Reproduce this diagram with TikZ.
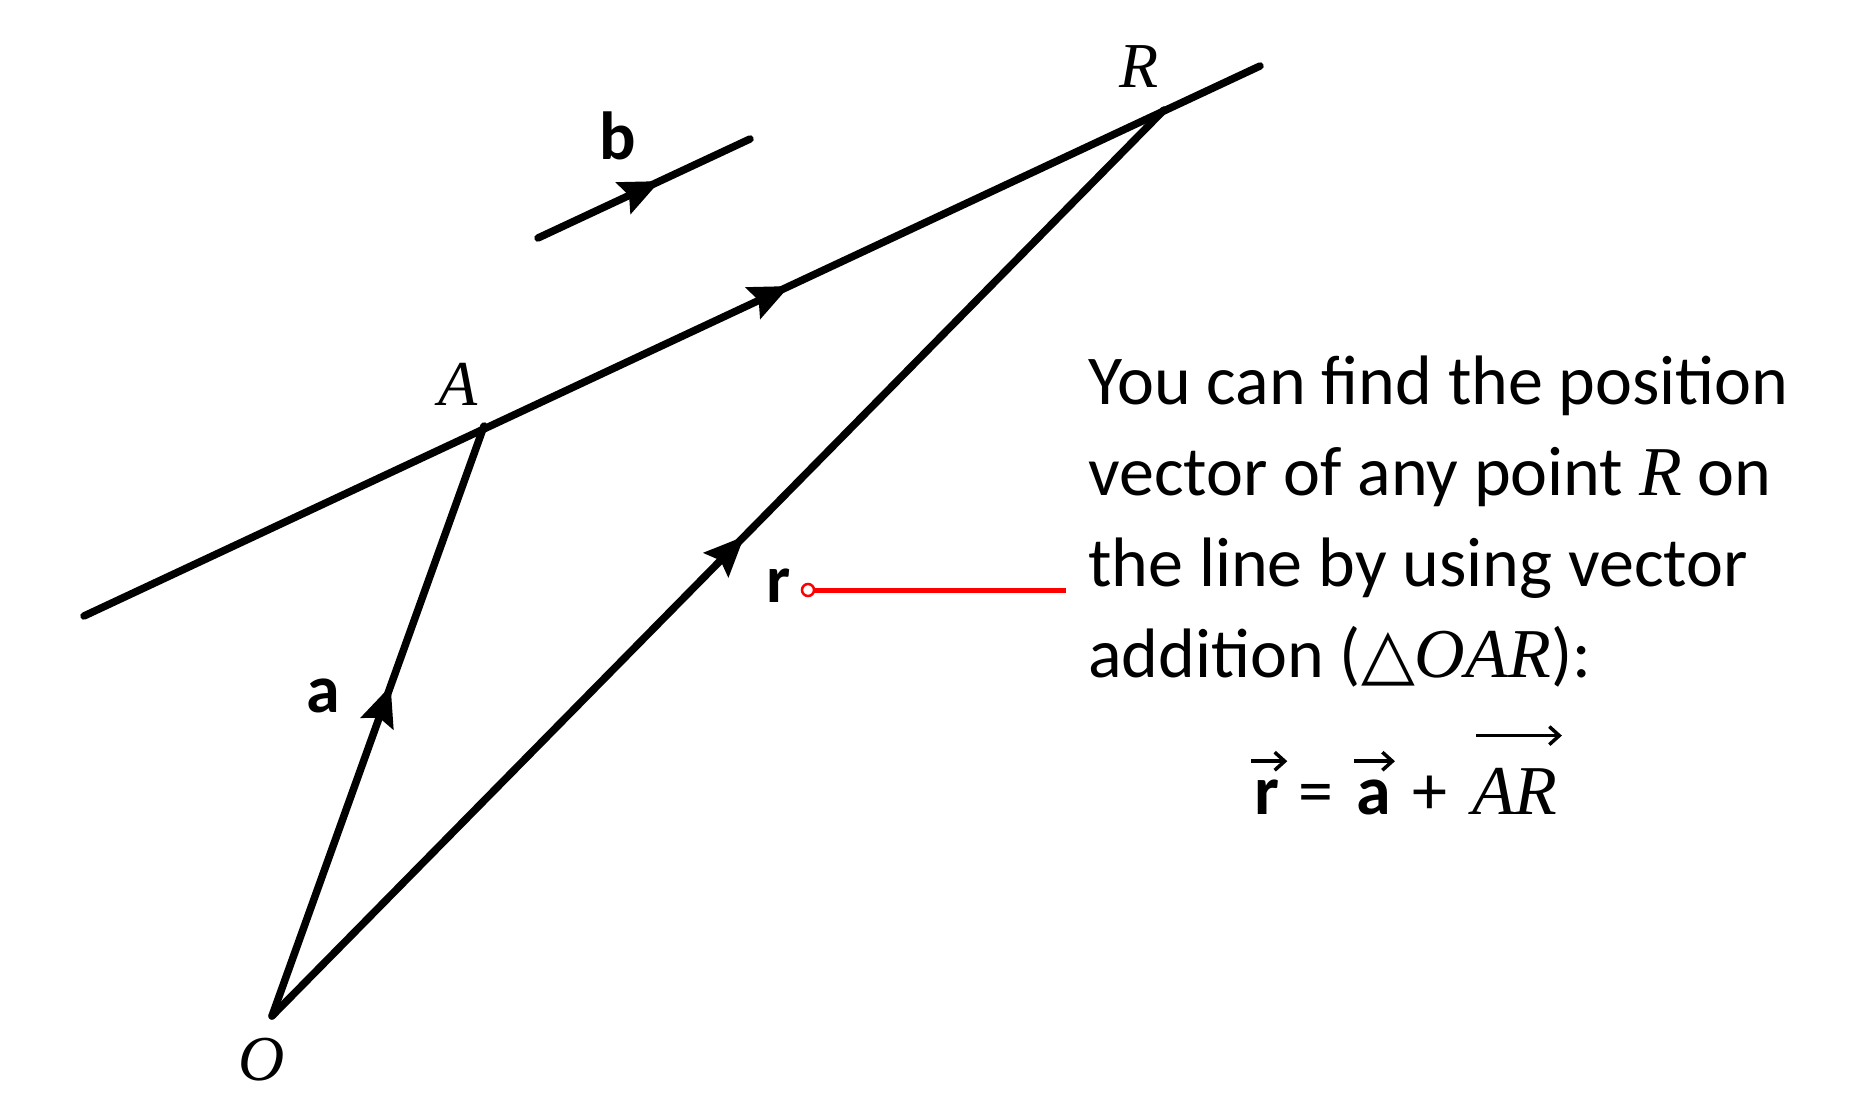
\documentclass[tikz,border=0pt]{standalone}
\usepackage{fontspec}
\setmainfont{Carlito}
\newfontfamily\tnr{Liberation Serif}
\newfontfamily\dejavu{DejaVu Sans}
\usetikzlibrary{decorations.markings,arrows.meta}
\begin{document}
\begin{tikzpicture}[x=1pt,y=-1pt,
  vline/.style={line width=7.5pt, line cap=round},
  midarrow/.style={postaction={decorate, decoration={markings,
      mark=at position #1 with {\arrow{Stealth[length=40pt,width=34pt,inset=6pt]}}}}},
  ptlabel/.style={font=\fontsize{64}{64}\selectfont\tnr\itshape, inner sep=0pt},
  veclabel/.style={font=\fontsize{68}{68}\selectfont\bfseries, inner sep=0pt},
  eqsty/.style={font=\fontsize{70}{70}\selectfont, inner sep=0pt, anchor=base west},
  vecarrow/.style={line width=3.5pt, -{Straight Barb[length=10pt,width=18pt]}},
  callout/.style={red, line width=5pt},
]
\useasboundingbox (0,0) rectangle (1876,1110);
% points
\coordinate (L1) at (84,616);
\coordinate (L2) at (1260,66);
\coordinate (A) at (484,426);
\coordinate (R) at (1164,110);
\coordinate (O) at (272,1016);
\coordinate (B1) at (538,238);
\coordinate (B2) at (750,139);
% lines
\draw[vline, midarrow=0.6] (L1) -- (L2);
\draw[vline, midarrow=0.56] (O) -- (A);
\draw[vline, midarrow=0.53] (O) -- (R);
\draw[vline, midarrow=0.575] (B1) -- (B2);
% labels
\node[ptlabel] (lA) at (458,384) {A};
\node[ptlabel] (lR) at (1139,67) {R};
\node[ptlabel] (lO) at (262,1060) {O};
\node[veclabel] (la) at (323,696) {a};
\node[veclabel] (lb) at (618,136) {b};
\node[veclabel] (lr) at (779,586) {r};
% callout
\coordinate (rs) at (808,590);
\coordinate (re) at (1066,590);
\draw[callout] (rs) -- (re);
\draw[red, line width=2.5pt, fill=white] (rs) circle (6pt);
% text
\node[anchor=north west, inner sep=0pt, align=left,
      font=\fontsize{70}{91}\selectfont] (txt) at (1088,356)
  {You can find the position\\
   vector of any point {\tnr\itshape R} on\\
   the line by using vector\\
   addition ({\dejavu △}{\tnr\itshape OAR}):};
% equation
\node[eqsty] (er) at (1254,814) {\bfseries r};
\node[eqsty] (eeq) at (1298,814) {=};
\node[eqsty] (ea) at (1356,814) {\bfseries a};
\node[eqsty] (eplus) at (1412,814) {+};
\node[eqsty, font=\fontsize{70}{70}\selectfont\tnr\itshape] (eAR) at (1472,814) {AR};
\draw[vecarrow] ([yshift=18pt,xshift=-3pt]er.north west) -- ([yshift=18pt,xshift=8pt]er.north east);
\draw[vecarrow] ([yshift=18pt,xshift=-2pt]ea.north west) -- ([yshift=18pt,xshift=4pt]ea.north east);
\draw[vecarrow] ([yshift=32pt,xshift=4pt]eAR.north west) -- ([yshift=32pt,xshift=4pt]eAR.north east);
\end{tikzpicture}
\end{document}
